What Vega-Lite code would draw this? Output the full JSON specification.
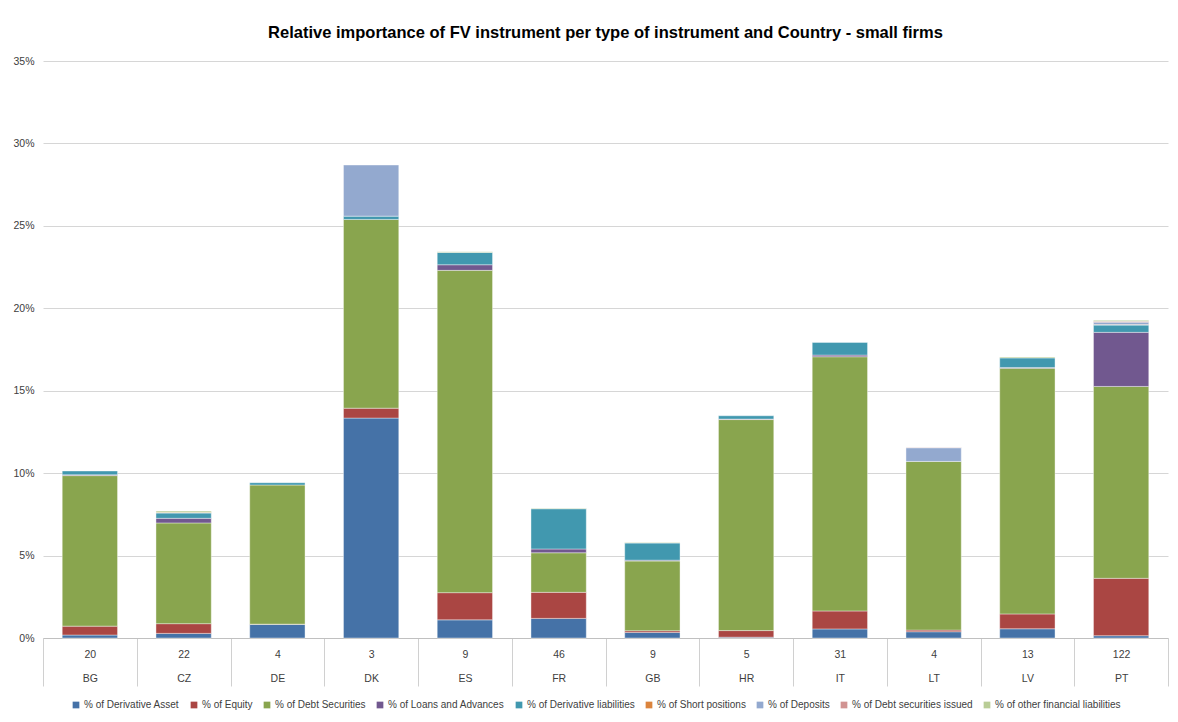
{
  "$schema": "https://vega.github.io/schema/vega-lite/v6.json",
  "width": 1125,
  "height": 577,
  "padding": {"left": 8, "top": 24, "right": 10, "bottom": 5},
  "background": "white",
  "title": {
    "text": "Relative importance of FV instrument per type of instrument and Country - small firms",
    "font": "Liberation Sans Narrow, Liberation Sans, sans-serif",
    "fontSize": 16.5,
    "fontWeight": "bold",
    "color": "#000000",
    "anchor": "middle",
    "offset": 15
  },
  "data": {
    "values": [
      {"cat": "20|BG", "series": "% of Derivative Asset", "k": 1, "value": 0.18},
      {"cat": "20|BG", "series": "% of Equity", "k": 2, "value": 0.54},
      {"cat": "20|BG", "series": "% of Debt Securities", "k": 3, "value": 9.13},
      {"cat": "20|BG", "series": "% of Loans and Advances", "k": 4, "value": 0.05},
      {"cat": "20|BG", "series": "% of Derivative liabilities", "k": 5, "value": 0.23},

      {"cat": "22|CZ", "series": "% of Derivative Asset", "k": 1, "value": 0.28},
      {"cat": "22|CZ", "series": "% of Equity", "k": 2, "value": 0.59},
      {"cat": "22|CZ", "series": "% of Debt Securities", "k": 3, "value": 6.11},
      {"cat": "22|CZ", "series": "% of Loans and Advances", "k": 4, "value": 0.28},
      {"cat": "22|CZ", "series": "% of Derivative liabilities", "k": 5, "value": 0.32},
      {"cat": "22|CZ", "series": "% of Short positions", "k": 6, "value": 0.04},
      {"cat": "22|CZ", "series": "% of other financial liabilities", "k": 9, "value": 0.08},

      {"cat": "4|DE", "series": "% of Derivative Asset", "k": 1, "value": 0.82},
      {"cat": "4|DE", "series": "% of Equity", "k": 2, "value": 0.02},
      {"cat": "4|DE", "series": "% of Debt Securities", "k": 3, "value": 8.44},
      {"cat": "4|DE", "series": "% of Derivative liabilities", "k": 5, "value": 0.14},

      {"cat": "3|DK", "series": "% of Derivative Asset", "k": 1, "value": 13.34},
      {"cat": "3|DK", "series": "% of Equity", "k": 2, "value": 0.6},
      {"cat": "3|DK", "series": "% of Debt Securities", "k": 3, "value": 11.45},
      {"cat": "3|DK", "series": "% of Derivative liabilities", "k": 5, "value": 0.2},
      {"cat": "3|DK", "series": "% of Deposits", "k": 7, "value": 3.1},

      {"cat": "9|ES", "series": "% of Derivative Asset", "k": 1, "value": 1.1},
      {"cat": "9|ES", "series": "% of Equity", "k": 2, "value": 1.65},
      {"cat": "9|ES", "series": "% of Debt Securities", "k": 3, "value": 19.55},
      {"cat": "9|ES", "series": "% of Loans and Advances", "k": 4, "value": 0.34},
      {"cat": "9|ES", "series": "% of Derivative liabilities", "k": 5, "value": 0.75},
      {"cat": "9|ES", "series": "% of other financial liabilities", "k": 9, "value": 0.04},

      {"cat": "46|FR", "series": "% of Derivative Asset", "k": 1, "value": 1.19},
      {"cat": "46|FR", "series": "% of Equity", "k": 2, "value": 1.58},
      {"cat": "46|FR", "series": "% of Debt Securities", "k": 3, "value": 2.4},
      {"cat": "46|FR", "series": "% of Loans and Advances", "k": 4, "value": 0.23},
      {"cat": "46|FR", "series": "% of Derivative liabilities", "k": 5, "value": 2.44},
      {"cat": "46|FR", "series": "% of other financial liabilities", "k": 9, "value": 0.03},

      {"cat": "9|GB", "series": "% of Derivative Asset", "k": 1, "value": 0.34},
      {"cat": "9|GB", "series": "% of Equity", "k": 2, "value": 0.1},
      {"cat": "9|GB", "series": "% of Debt Securities", "k": 3, "value": 4.23},
      {"cat": "9|GB", "series": "% of Loans and Advances", "k": 4, "value": 0.05},
      {"cat": "9|GB", "series": "% of Derivative liabilities", "k": 5, "value": 1.04},
      {"cat": "9|GB", "series": "% of other financial liabilities", "k": 9, "value": 0.03},

      {"cat": "5|HR", "series": "% of Derivative Asset", "k": 1, "value": 0.05},
      {"cat": "5|HR", "series": "% of Equity", "k": 2, "value": 0.4},
      {"cat": "5|HR", "series": "% of Debt Securities", "k": 3, "value": 12.8},
      {"cat": "5|HR", "series": "% of Loans and Advances", "k": 4, "value": 0.03},
      {"cat": "5|HR", "series": "% of Derivative liabilities", "k": 5, "value": 0.2},

      {"cat": "31|IT", "series": "% of Derivative Asset", "k": 1, "value": 0.55},
      {"cat": "31|IT", "series": "% of Equity", "k": 2, "value": 1.09},
      {"cat": "31|IT", "series": "% of Debt Securities", "k": 3, "value": 15.42},
      {"cat": "31|IT", "series": "% of Loans and Advances", "k": 4, "value": 0.1},
      {"cat": "31|IT", "series": "% of Derivative liabilities", "k": 5, "value": 0.77},

      {"cat": "4|LT", "series": "% of Derivative Asset", "k": 1, "value": 0.38},
      {"cat": "4|LT", "series": "% of Equity", "k": 2, "value": 0.1},
      {"cat": "4|LT", "series": "% of Debt Securities", "k": 3, "value": 10.23},
      {"cat": "4|LT", "series": "% of Deposits", "k": 7, "value": 0.83},
      {"cat": "4|LT", "series": "% of Debt securities issued", "k": 8, "value": 0.02},

      {"cat": "13|LV", "series": "% of Derivative Asset", "k": 1, "value": 0.56},
      {"cat": "13|LV", "series": "% of Equity", "k": 2, "value": 0.9},
      {"cat": "13|LV", "series": "% of Debt Securities", "k": 3, "value": 14.9},
      {"cat": "13|LV", "series": "% of Loans and Advances", "k": 4, "value": 0.05},
      {"cat": "13|LV", "series": "% of Derivative liabilities", "k": 5, "value": 0.58},
      {"cat": "13|LV", "series": "% of other financial liabilities", "k": 9, "value": 0.05},

      {"cat": "122|PT", "series": "% of Derivative Asset", "k": 1, "value": 0.14},
      {"cat": "122|PT", "series": "% of Equity", "k": 2, "value": 3.48},
      {"cat": "122|PT", "series": "% of Debt Securities", "k": 3, "value": 11.64},
      {"cat": "122|PT", "series": "% of Loans and Advances", "k": 4, "value": 3.28},
      {"cat": "122|PT", "series": "% of Derivative liabilities", "k": 5, "value": 0.44},
      {"cat": "122|PT", "series": "% of Short positions", "k": 6, "value": 0.03},
      {"cat": "122|PT", "series": "% of Deposits", "k": 7, "value": 0.15},
      {"cat": "122|PT", "series": "% of Debt securities issued", "k": 8, "value": 0.05},
      {"cat": "122|PT", "series": "% of other financial liabilities", "k": 9, "value": 0.06}
    ]
  },
  "mark": {"type": "bar", "width": {"band": 0.59}, "stroke": "#ffffff", "strokeWidth": 0.4},
  "encoding": {
    "x": {
      "field": "cat",
      "type": "nominal",
      "sort": null,
      "scale": {"paddingInner": 0, "paddingOuter": 0},
      "axis": {
        "title": null,
        "labelAngle": 0,
        "labelExpr": "split(datum.label, '|')",
        "labelFont": "Liberation Sans, sans-serif",
        "labelFontSize": 10.5,
        "labelColor": "#404040",
        "labelLineHeight": 24,
        "labelBaseline": "top",
        "labelPadding": -37,
        "tickBand": "extent",
        "tickSize": 48,
        "tickColor": "#d0d0d0",
        "domainColor": "#c0c0c0",
        "grid": false
      }
    },
    "y": {
      "field": "value",
      "type": "quantitative",
      "aggregate": "sum",
      "stack": "zero",
      "scale": {"domain": [0, 35], "nice": false},
      "axis": {
        "title": null,
        "values": [0, 5, 10, 15, 20, 25, 30, 35],
        "labelExpr": "datum.value + '%'",
        "labelFont": "Liberation Sans, sans-serif",
        "labelFontSize": 10.5,
        "labelColor": "#404040",
        "domain": false,
        "ticks": false,
        "labelPadding": 9,
        "minExtent": 35,
        "maxExtent": 35,
        "gridColor": "#d6d6d6",
        "gridWidth": 1
      }
    },
    "order": {"field": "k", "type": "quantitative", "sort": "ascending"},
    "color": {
      "field": "series",
      "type": "nominal",
      "scale": {
        "domain": ["% of Derivative Asset", "% of Equity", "% of Debt Securities", "% of Loans and Advances", "% of Derivative liabilities", "% of Short positions", "% of Deposits", "% of Debt securities issued", "% of other financial liabilities"],
        "range": ["#4572A7", "#AA4643", "#89A54E", "#71588F", "#4198AF", "#DB843D", "#93A9CF", "#D19392", "#B9CD96"]
      },
      "legend": {
        "title": null,
        "orient": "none",
        "legendX": 28,
        "legendY": 639,
        "direction": "horizontal",
        "columns": 9,
        "symbolType": "square",
        "symbolSize": 45,
        "symbolStrokeWidth": 0,
        "labelFont": "Liberation Sans, sans-serif",
        "labelFontSize": 10,
        "labelColor": "#404040",
        "columnPadding": 9,
        "labelOffset": 3
      }
    }
  },
  "config": {
    "view": {"stroke": null}
  }
}
